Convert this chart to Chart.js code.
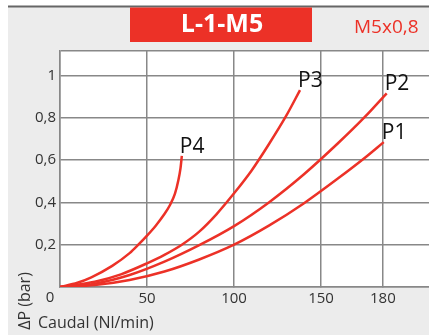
<!DOCTYPE html>
<html>
<head>
<meta charset="utf-8">
<script src="https://cdn.jsdelivr.net/npm/chart.js@4/dist/chart.umd.min.js"></script>
<style>
  html, body { margin: 0; padding: 0; background: #fff; }
  #wrap { width: 429px; height: 335px; position: relative; }
</style>
</head>
<body>
<div id="wrap"><canvas id="lossChart"></canvas></div>
<script>
// curvas de pérdida de carga
const seriesNames = ['P1', 'P2', 'P3', 'P4'];
const p1X = [0, 20, 40, 60, 80, 100, 120, 140, 160, 175, 186];
const p1Y = [0, 0.009, 0.033, 0.073, 0.13, 0.2, 0.29, 0.395, 0.515, 0.61, 0.685];
const p2X = [0, 20, 40, 60, 80, 100, 120, 140, 160, 175, 187.7];
const p2Y = [0, 0.016, 0.057, 0.12, 0.198, 0.288, 0.4, 0.532, 0.682, 0.803, 0.916];
const p3X = [0, 20, 35, 50, 60, 70, 80, 90, 100, 110, 120, 130, 137.9];
const p3Y = [0, 0.025, 0.06, 0.112, 0.152, 0.2, 0.262, 0.345, 0.443, 0.55, 0.675, 0.81, 0.931];
const p4X = [0, 10, 18, 30, 40, 45, 50, 55, 60, 63.2, 66, 68, 69.2, 70];
const p4Y = [0, 0.02, 0.046, 0.1, 0.16, 0.2, 0.243, 0.29, 0.345, 0.388, 0.44, 0.505, 0.56, 0.62];

const xTickValues = [0, 50, 100, 150, 185.5];
const xTickLabels = ['0', '50', '100', '150', '180'];
const yTickValues = [0.2, 0.4, 0.6, 0.8, 1];

const RED = '#ec3127';
const FONT = '"Open Sans", "Noto Sans", sans-serif';

function toPoints(xs, ys) {
    return xs.map((x, i) => ({ x: x, y: ys[i] }));
}

const allX = [p1X, p2X, p3X, p4X];
const allY = [p1Y, p2Y, p3Y, p4Y];

const datasets = seriesNames.map((name, i) => ({
    label: name,
    data: toPoints(allX[i], allY[i]),
    borderColor: RED,
    borderWidth: 2.5,
    pointRadius: 0,
    fill: false,
    cubicInterpolationMode: 'monotone'
}));

// fondo gris, cabecera, títulos y etiquetas de curva
const decorPlugin = {
    id: 'decor',
    beforeDraw(chart) {
        const ctx = chart.ctx;
        const a = chart.chartArea;
        ctx.save();
        ctx.fillStyle = '#ececec';
        ctx.fillRect(8, 7, chart.width - 8, chart.height - 7);
        ctx.fillStyle = '#fff';
        ctx.fillRect(a.left, a.top, a.right - a.left, a.bottom - a.top);
        ctx.restore();
    },
    afterDraw(chart) {
        const ctx = chart.ctx;
        const xs = chart.scales.x;
        const ys = chart.scales.y;
        ctx.save();
        // línea superior
        ctx.strokeStyle = '#666';
        ctx.lineWidth = 2;
        ctx.beginPath();
        ctx.moveTo(8, 6.5);
        ctx.lineTo(chart.width, 6.5);
        ctx.stroke();
        // caja roja
        ctx.fillStyle = RED;
        ctx.fillRect(130, 7.5, 182, 34.5);
        ctx.fillStyle = '#fff';
        ctx.font = 'bold 25px ' + FONT;
        ctx.textAlign = 'center';
        ctx.textBaseline = 'middle';
        ctx.fillText('L-1-M5', 222, 25);
        ctx.fillStyle = RED;
        ctx.font = '19px ' + FONT;
        ctx.textAlign = 'left';
        ctx.fillText('M5x0,8', 354, 28);
        // etiquetas de curva
        ctx.fillStyle = '#111';
        ctx.font = '21px ' + FONT;
        ctx.textBaseline = 'alphabetic';
        seriesNames.forEach((name, i) => {
            const xv = allX[i][allX[i].length - 1];
            const yv = allY[i][allY[i].length - 1];
            ctx.fillText(name, xs.getPixelForValue(xv) - 2, ys.getPixelForValue(yv) - 3);
        });
        // origen y títulos de ejes
        ctx.fillStyle = '#333';
        ctx.font = '15px ' + FONT;
        ctx.textBaseline = 'middle';
        ctx.textAlign = 'center';
        ctx.fillText('0', xs.getPixelForValue(0) - 10, 298);
        ctx.font = '16px ' + FONT;
        ctx.textAlign = 'left';
        ctx.fillText('Caudal (Nl/min)', 38, 323);
        ctx.translate(25, 301);
        ctx.rotate(-Math.PI / 2);
        ctx.textAlign = 'center';
        ctx.fillText('\u0394P (bar)', 0, 0);
        ctx.restore();
    }
};

const ctx = document.getElementById('lossChart').getContext('2d');
const lossChart = new Chart(ctx, {
    type: 'line',
    data: { datasets: datasets },
    options: {
        responsive: true,
        maintainAspectRatio: false,
        animation: false,
        events: [],
        layout: { padding: { left: 8, top: 51, right: 0, bottom: 0 } },
        plugins: {
            legend: { display: false },
            tooltip: { enabled: false }
        },
        scales: {
            x: {
                type: 'linear',
                min: 0,
                max: 212,
                afterBuildTicks(scale) {
                    scale.ticks = xTickValues.map(v => ({ value: v }));
                },
                afterFit(scale) { scale.height = 48; },
                grid: { color: '#888', lineWidth: 1.5, tickLength: 0 },
                border: { color: '#888', width: 1.5 },
                ticks: {
                    padding: 3,
                    color: '#333',
                    font: { family: FONT, size: 15 },
                    maxRotation: 0,
                    autoSkip: false,
                    callback: (v, i) => (i === 0 ? '' : xTickLabels[i])
                }
            },
            y: {
                min: 0,
                max: 1.116,
                afterBuildTicks(scale) {
                    scale.ticks = [0].concat(yTickValues).concat([1.116]).map(v => ({ value: v }));
                },
                afterFit(scale) { scale.width = 52; },
                grid: { color: '#888', lineWidth: 1.5, tickLength: 0 },
                border: { color: '#888', width: 1.5 },
                ticks: {
                    padding: 4,
                    color: '#333',
                    font: { family: FONT, size: 15 },
                    callback: v => (yTickValues.includes(v) ? String(v).replace('.', ',') : '')
                }
            }
        }
    },
    plugins: [decorPlugin]
});
</script>
</body>
</html>
